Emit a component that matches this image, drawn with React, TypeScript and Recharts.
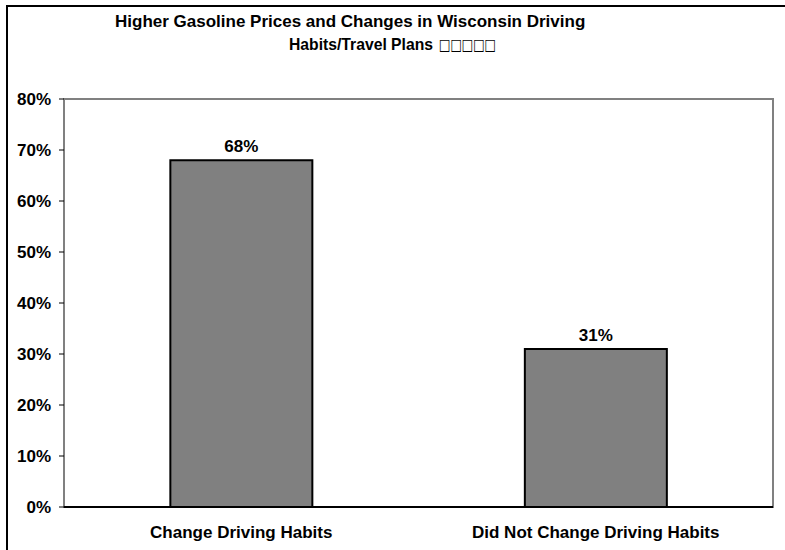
import { Bar, BarChart, LabelList, ReferenceArea, XAxis, YAxis } from 'recharts';

const categories = ['Change Driving Habits', 'Did Not Change Driving Habits'];
const shares = [68, 31];
const yTicks = [0, 10, 20, 30, 40, 50, 60, 70, 80];

const titleLine1 = 'Higher Gasoline Prices and Changes in Wisconsin Driving';
const titleLine2 = 'Habits/Travel Plans';
const titleTofu = '\u25A1\u25A1\u25A1\u25A1\u25A1';

const data = categories.map((name, i) => ({ name, value: shares[i] }));

const font = '"Liberation Sans", Arial, sans-serif';
const pct = (v: number | string) => `${v}%`;
const labelStyle = { fill: '#000', fontSize: 17, fontWeight: 'bold', fontFamily: font };

export default function App() {
  return (
    <div style={{ position: 'absolute', left: 0, top: 0, width: 785, height: 550, background: '#fff', fontFamily: font }}>
      <div
        style={{
          position: 'absolute',
          left: 6,
          top: 5,
          width: 779,
          height: 545,
          borderTop: '2px solid #000',
          borderLeft: '2px solid #000',
          boxSizing: 'border-box',
        }}
      />
      <svg width={785} height={60} style={{ position: 'absolute', left: 0, top: 0 }}>
        <text x={115} y={26.5} fontFamily={font} fontWeight="bold" fontSize={17} fill="#000">
          {titleLine1}
        </text>
        <text
          x={289}
          y={49.5}
          fontFamily={font}
          fontWeight="bold"
          fontSize={17}
          textLength={144}
          lengthAdjust="spacingAndGlyphs"
          fill="#000"
        >
          {titleLine2}
        </text>
        <text
          x={439}
          y={49.5}
          fontFamily='"DejaVu Sans", sans-serif'
          fontWeight="bold"
          fontSize={16}
          textLength={57}
          lengthAdjust="spacingAndGlyphs"
          fill="#000"
        >
          {titleTofu}
        </text>
      </svg>
      <div style={{ position: 'absolute', left: 0, top: 0 }}>
        <BarChart
          width={785}
          height={550}
          data={data}
          margin={{ top: 99, right: 12, bottom: 0, left: 4 }}
          barCategoryGap="30%"
        >
          <ReferenceArea y1={0} y2={80} fill="none" stroke="#808080" strokeWidth={2} ifOverflow="extendDomain" />
          <XAxis
            dataKey="name"
            height={43}
            tickSize={0}
            tickMargin={19}
            axisLine={{ stroke: '#000', strokeWidth: 2 }}
            tick={labelStyle}
          />
          <YAxis
            width={60}
            domain={[0, 80]}
            ticks={yTicks}
            interval={0}
            tickFormatter={pct}
            axisLine={false}
            tickSize={5}
            tickMargin={8}
            tickLine={{ stroke: '#000' }}
            tick={labelStyle}
          />
          <Bar dataKey="value" fill="#808080" stroke="#000" strokeWidth={2} isAnimationActive={false}>
            <LabelList dataKey="value" position="top" offset={8} formatter={pct} style={labelStyle} />
          </Bar>
        </BarChart>
      </div>
    </div>
  );
}
